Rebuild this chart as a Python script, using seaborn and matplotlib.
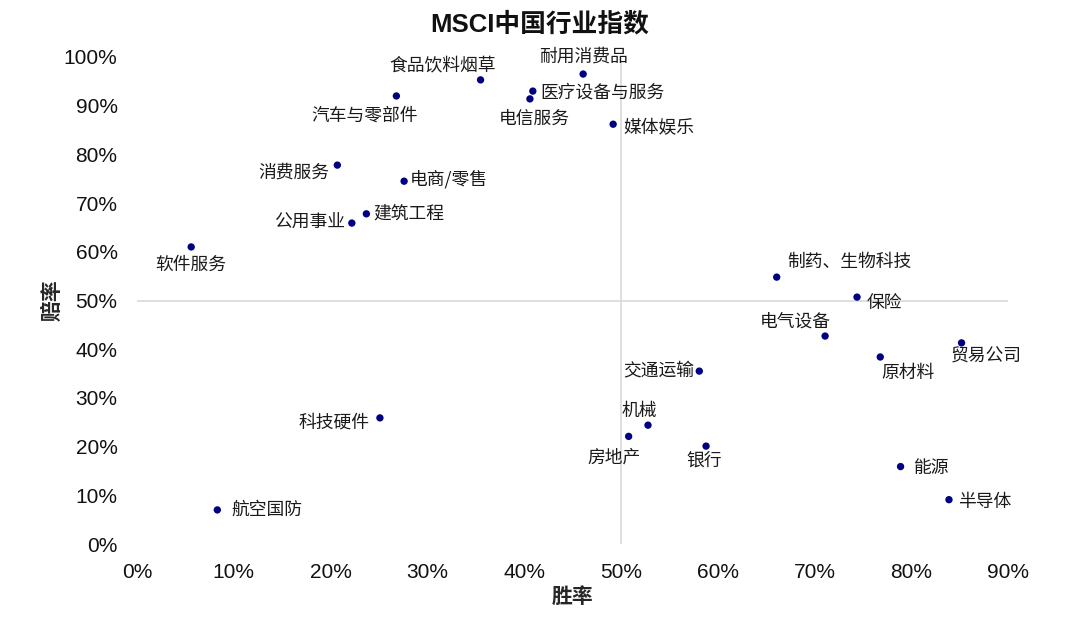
import pandas as pd
import matplotlib
matplotlib.use("Agg")
import matplotlib.pyplot as plt
import seaborn as sns
from matplotlib.ticker import PercentFormatter

# ---------- data ----------
sectors = ["软件服务", "航空国防", "消费服务", "公用事业", "建筑工程", "科技硬件",
           "汽车与零部件", "电商/零售", "食品饮料烟草", "电信服务", "医疗设备与服务",
           "耐用消费品", "媒体娱乐", "房地产", "机械", "交通运输", "银行",
           "制药、生物科技", "电气设备", "保险", "原材料", "能源", "半导体", "贸易公司"]
win_rate = [0.056, 0.083, 0.207, 0.222, 0.237, 0.251,
            0.268, 0.276, 0.355, 0.406, 0.409,
            0.461, 0.492, 0.508, 0.528, 0.581, 0.588,
            0.661, 0.711, 0.744, 0.768, 0.789, 0.839, 0.852]
odds = [0.610, 0.070, 0.778, 0.659, 0.678, 0.259,
        0.920, 0.745, 0.953, 0.914, 0.930,
        0.965, 0.862, 0.221, 0.244, 0.355, 0.201,
        0.548, 0.427, 0.507, 0.384, 0.159, 0.091, 0.413]
x_ticks = [0, 0.1, 0.2, 0.3, 0.4, 0.5, 0.6, 0.7, 0.8, 0.9]
y_ticks = [0, 0.1, 0.2, 0.3, 0.4, 0.5, 0.6, 0.7, 0.8, 0.9, 1.0]

df = pd.DataFrame({"sector": sectors, "win": win_rate, "odds": odds})

# label placement: offset of text centre from the point, in pixels
label_offset = {
    "软件服务": (0, -18), "航空国防": (50, 0), "消费服务": (-44, -7),
    "公用事业": (-42, 0), "建筑工程": (42, 0), "科技硬件": (-46, -5),
    "汽车与零部件": (-32, -20), "电商/零售": (45, 2), "食品饮料烟草": (-38, 14),
    "电信服务": (4, -20), "医疗设备与服务": (70, -1), "耐用消费品": (0, 17),
    "媒体娱乐": (46, -4), "房地产": (-15, -21), "机械": (-9, 14),
    "交通运输": (-41, 0), "银行": (-2, -14), "制药、生物科技": (73, 15),
    "电气设备": (-30, 14), "保险": (27, -6), "原材料": (28, -16),
    "能源": (31, -1), "半导体": (36, -2), "贸易公司": (25, -14),
}

# ---------- style ----------
sns.set_theme(style="white")
plt.rcParams["font.family"] = ["Liberation Sans", "Noto Sans CJK SC", "DejaVu Sans"]

fig = plt.figure(figsize=(10.8, 6.22), dpi=100)
ax = fig.add_axes([137 / 1080, 1 - 544 / 622, 871 / 1080, 487 / 622])

# quadrant lines
ax.axhline(0.5, color="#d9d9d9", lw=1.2, zorder=1)
ax.axvline(0.5, color="#d9d9d9", lw=1.2, zorder=1)

sns.scatterplot(data=df, x="win", y="odds", ax=ax, color="#000080",
                s=28, edgecolor="none", zorder=3, legend=False)

for _, row in df.iterrows():
    dx, dy = label_offset[row["sector"]]
    ax.annotate(row["sector"], (row["win"], row["odds"]), xytext=(dx, dy),
                textcoords="offset pixels", ha="center", va="center",
                fontsize=12.8, color="#1a1a1a", annotation_clip=False,
                family=["Noto Sans CJK SC", "DejaVu Sans"])

ax.set_xlim(0, 0.9)
ax.set_ylim(0, 1.0)
ax.set_xticks(x_ticks)
ax.set_yticks(y_ticks)
ax.xaxis.set_major_formatter(PercentFormatter(1.0, decimals=0))
ax.yaxis.set_major_formatter(PercentFormatter(1.0, decimals=0))
ax.tick_params(axis="both", length=0, labelsize=15, labelcolor="#111111")
ax.tick_params(axis="x", pad=14)
ax.tick_params(axis="y", pad=14)
sns.despine(ax=ax, left=True, bottom=True)

ax.set_xlabel("胜率", fontsize=15, fontweight="bold",
              family=["Noto Sans CJK SC", "DejaVu Sans"])
ax.set_ylabel("赔率", fontsize=15, fontweight="bold",
              family=["Noto Sans CJK SC", "DejaVu Sans"])
ax.xaxis.set_label_coords(0.5, -0.086)
ax.yaxis.set_label_coords(-0.085, 0.5)

fig.text(0.5, 1 - 24 / 622, "MSCI中国行业指数", ha="center", va="center",
         fontsize=18.5, fontweight="bold", color="#111111")

fig.savefig("out.png", dpi=100)
